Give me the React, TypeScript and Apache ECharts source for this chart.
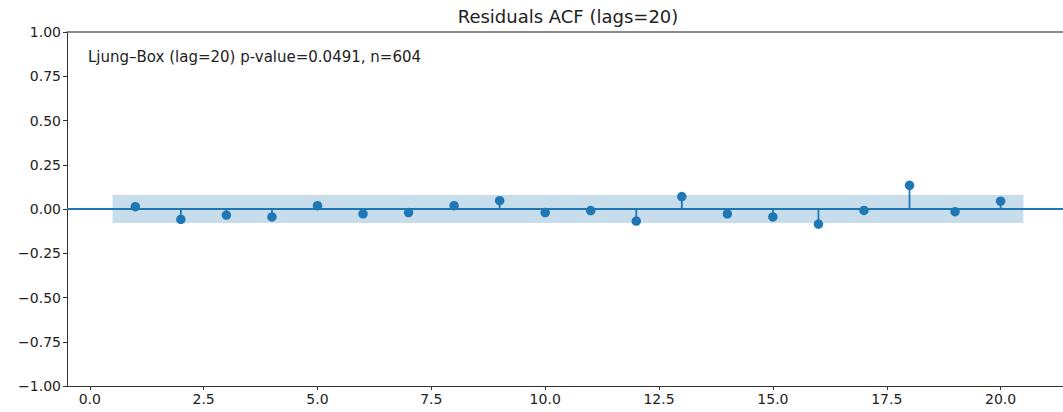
import React, { useEffect, useRef } from "react";
import * as echarts from "echarts";

const chartTitle = "Residuals ACF (lags=20)";
const annotation = "Ljung\u2013Box (lag=20) p-value=0.0491, n=604";
const lags = [1, 2, 3, 4, 5, 6, 7, 8, 9, 10, 11, 12, 13, 14, 15, 16, 17, 18, 19, 20];
const acfValues = [
  0.013, -0.058, -0.034, -0.045, 0.019, -0.027, -0.02, 0.019, 0.047, -0.02,
  -0.009, -0.068, 0.07, -0.027, -0.045, -0.085, -0.008, 0.134, -0.015, 0.044,
];
const confBound = 0.0797;
const bandStart = 0.5;
const bandEnd = 20.5;
const xTicks = [0, 2.5, 5, 7.5, 10, 12.5, 15, 17.5, 20];

const C0 = "#1f77b4";
const FONT = "DejaVu Sans";

const fmtY = (v: number) => (v < 0 ? "\u2212" : "") + Math.abs(v).toFixed(2);
const fmtX = (v: number) => (v < 0 ? "\u2212" : "") + Math.abs(v).toFixed(1);

export default function App() {
  const ref = useRef<HTMLDivElement>(null);
  useEffect(() => {
    if (!ref.current) return;
    const chart = echarts.init(ref.current, undefined, { renderer: "svg" });
    const points = lags.map((l, i) => [l, acfValues[i]]);
    chart.setOption({
      animation: false,
      backgroundColor: "#ffffff",
      grid: { left: 67, right: 0, top: 32, bottom: 26, containLabel: false },
      graphic: [
        {
          type: "text",
          x: 568,
          y: 16,
          style: {
            text: chartTitle,
            font: `18px '${FONT}'`,
            fill: "#222",
            align: "center",
            verticalAlign: "middle",
          },
        },
        {
          type: "text",
          x: 88,
          y: 57,
          style: {
            text: annotation,
            font: `15px '${FONT}'`,
            fill: "#222",
            align: "left",
            verticalAlign: "middle",
          },
        },
      ],
      xAxis: [
        {
          type: "value",
          min: -0.5,
          max: 21.37,
          splitLine: { show: false },
          axisLine: { show: true, onZero: false, lineStyle: { color: "#333", width: 1 } },
          axisTick: { show: true, length: 4, customValues: xTicks, lineStyle: { color: "#333" } },
          axisLabel: {
            customValues: xTicks,
            formatter: fmtX,
            fontFamily: FONT,
            fontSize: 14,
            color: "#222",
            margin: 6,
          },
        },
        {
          type: "value",
          position: "top",
          min: -0.5,
          max: 21.37,
          splitLine: { show: false },
          axisLine: { show: true, onZero: false, lineStyle: { color: "#666", width: 1.5 } },
          axisTick: { show: false },
          axisLabel: { show: false },
        },
      ],
      yAxis: {
        type: "value",
        min: -1,
        max: 1,
        interval: 0.25,
        splitLine: { show: false },
        axisLine: { show: true, onZero: false, lineStyle: { color: "#333", width: 1 } },
        axisTick: { show: true, length: 4, lineStyle: { color: "#333" } },
        axisLabel: {
          formatter: fmtY,
          fontFamily: FONT,
          fontSize: 14,
          color: "#222",
          margin: 6,
        },
      },
      series: [
        {
          type: "custom",
          xAxisIndex: 0,
          renderItem: (params: any, api: any) => {
            const x = api.value(0);
            const y = api.value(1);
            const p0 = api.coord([x, 0]);
            const p1 = api.coord([x, y]);
            return {
              type: "line",
              shape: { x1: p0[0], y1: p0[1], x2: p1[0], y2: p1[1] },
              style: { stroke: C0, lineWidth: 1.8 },
            };
          },
          data: points,
          z: 3,
          markArea: {
            silent: true,
            itemStyle: { color: "rgba(31,119,180,0.25)" },
            data: [[{ xAxis: bandStart, yAxis: -confBound }, { xAxis: bandEnd, yAxis: confBound }]],
          },
          markLine: {
            silent: true,
            symbol: "none",
            label: { show: false },
            lineStyle: { color: C0, width: 2, type: "solid" },
            data: [{ yAxis: 0 }],
          },
        },
        {
          type: "scatter",
          xAxisIndex: 0,
          data: points,
          symbol: "circle",
          symbolSize: 9.5,
          itemStyle: { color: C0, opacity: 1 },
          z: 5,
        },
      ],
    });
    return () => chart.dispose();
  }, []);
  return (
    <div
      ref={ref}
      style={{ position: "fixed", left: 0, top: 0, width: 1063, height: 412 }}
    />
  );
}
